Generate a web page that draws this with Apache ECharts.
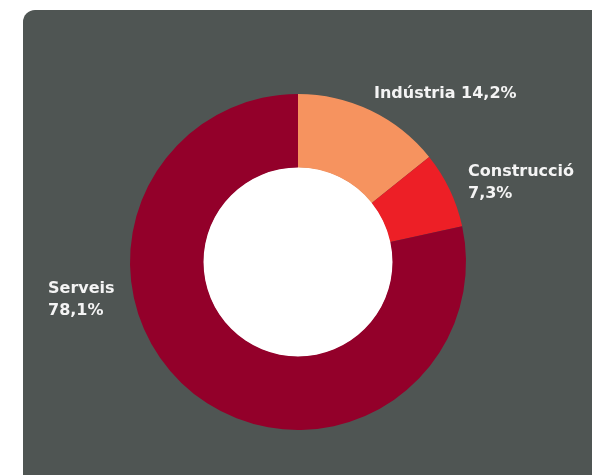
<!DOCTYPE html>
<html><head><meta charset="utf-8">
<script src="https://cdn.jsdelivr.net/npm/echarts@6/dist/echarts.min.js"></script>
<style>html,body{margin:0;padding:0;background:#fff}#c{width:592px;height:475px}</style>
</head><body><div id="c"></div>
<script>
const categories = ['Indústria', 'Construcció', 'Serveis'];
const values = [14.2, 7.3, 78.1];
const valueLabels = ['14,2%', '7,3%', '78,1%'];
const colors = ['#f6935f', '#ed1f26', '#93002a'];
const labelPos = [[374, 83], [468, 161], [48, 278]];

const chart = echarts.init(document.getElementById('c'));
chart.setOption({
  backgroundColor: '#ffffff',
  animation: false,
  graphic: [
    {type: 'rect', z: -10, shape: {x: 23, y: 10, width: 600, height: 500, r: 12}, style: {fill: '#4f5553'}},
    {type: 'circle', z: -5, shape: {cx: 298, cy: 262, r: 95}, style: {fill: '#ffffff'}}
  ],
  series: [{
    type: 'pie',
    center: [298, 262],
    radius: [94.5, 168],
    startAngle: 90,
    clockwise: true,
    silent: true,
    data: categories.map((c, i) => ({name: c, value: values[i], itemStyle: {color: colors[i]}})),
    label: {
      show: true,
      position: 'outside',
      color: '#f4f4f4',
      fontFamily: 'DejaVu Sans',
      fontWeight: 'bold',
      fontSize: 16,
      lineHeight: 22,
      overflow: 'none',
      width: 200,
      formatter: p => p.dataIndex === 0 ? categories[0] + ' ' + valueLabels[0] : categories[p.dataIndex] + '\n' + valueLabels[p.dataIndex]
    },
    labelLine: {show: false},
    labelLayout: p => ({x: labelPos[p.dataIndex][0], y: labelPos[p.dataIndex][1], align: 'left', verticalAlign: 'top', hideOverlap: false})
  }]
});
</script></body></html>
